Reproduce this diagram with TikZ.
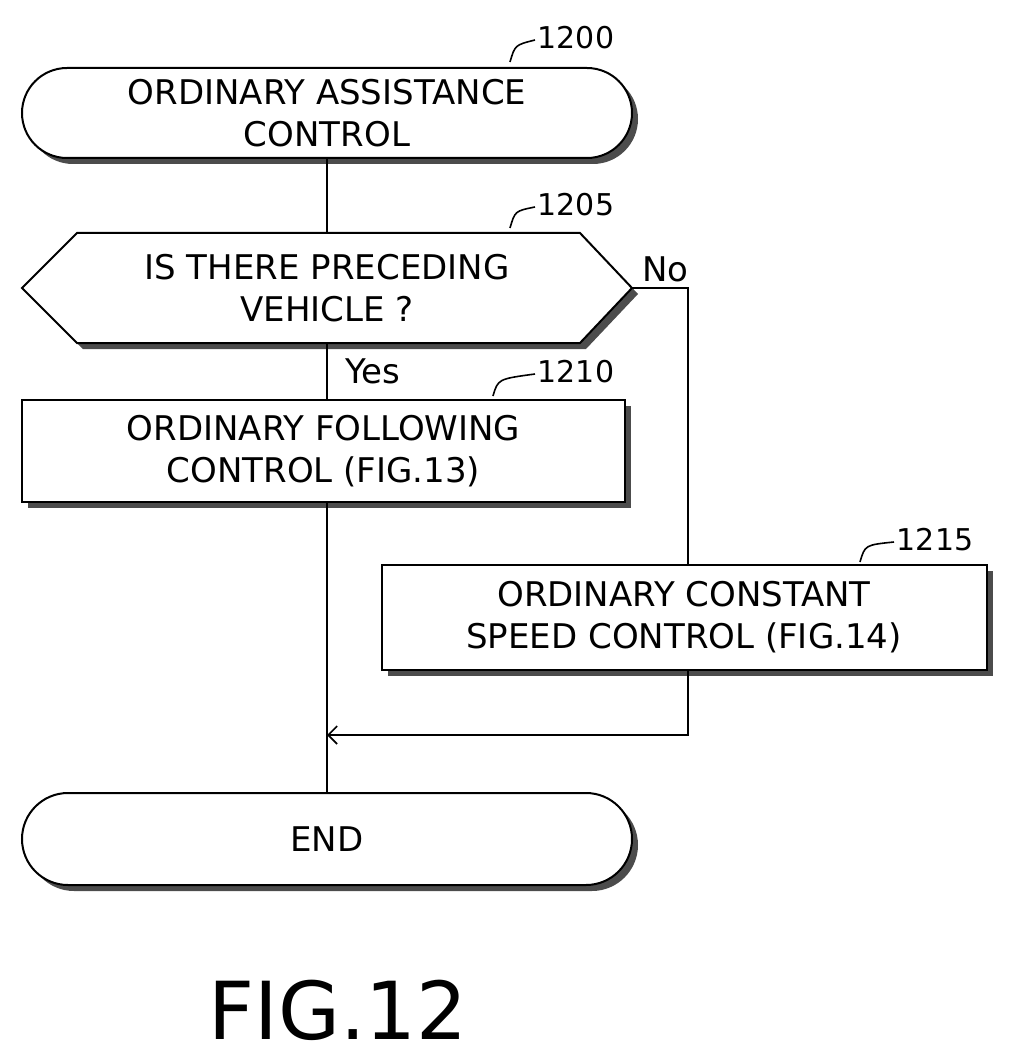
\documentclass[tikz,border=0pt]{standalone}
\usepackage{fontspec}
\setmainfont{DejaVu Sans}
\usetikzlibrary{shapes.misc,arrows.meta,shadows}
\begin{document}
\begin{tikzpicture}[x=1pt,y=-1pt,
  every node/.style={font=\fontsize{34}{42}\selectfont},
  sh/.style={drop shadow={shadow xshift=6pt,shadow yshift=-6pt,fill=black!70,opacity=1}},
  box/.style={draw,line width=2pt,fill=white,sh,align=center,inner sep=0},
  lbl/.style={font=\fontsize{30}{34}\selectfont},
  ln/.style={line width=1.6pt}]
\useasboundingbox (0,0) rectangle (1015,1059);
\node[box,rounded rectangle,minimum width=610pt,minimum height=90pt] (s) at (327,113) {ORDINARY ASSISTANCE\\CONTROL};
\fill[black!70] (28,294) -- (83,239) -- (586,239) -- (638,294) -- (586,349) -- (83,349) -- cycle;
\draw[line width=2pt,fill=white] (22,288) -- (77,233) -- (580,233) -- (632,288) -- (580,343) -- (77,343) -- cycle;
\node[align=center] (d) at (327,288) {IS THERE PRECEDING\\VEHICLE ?};
\coordinate (dt) at (327,233);
\coordinate (db) at (327,343);
\coordinate (dr) at (632,288);
\node[box,minimum width=603pt,minimum height=102pt] (f) at (323.5,451) {ORDINARY FOLLOWING\\CONTROL (FIG.13)};
\node[box,minimum width=605pt,minimum height=105pt] (c) at (684,617) {ORDINARY CONSTANT\\SPEED CONTROL (FIG.14)};
\node[box,rounded rectangle,minimum width=610pt,minimum height=92pt] (e) at (327,839) {END};
\coordinate (m) at (327,735);
\draw[ln] (s.south) -- (dt);
\draw[ln] (db) -- node[pos=0.5,right=14pt] {Yes} (db|-f.north);
\draw[ln] (dr) -- (688,288) node[pos=0.6,above=2pt] {No} -- (688,565);
\draw[ln] (db|-f.south) -- (e.north);
\draw[ln,-{Straight Barb[length=9pt,width=18pt]}] (688,670) -- (688,735) -- (m);
\node[lbl] (l1) at (576,38) {1200};
\draw[ln] (510,62) .. controls (515,45) .. (535,40);
\node[lbl] (l2) at (576,205) {1205};
\draw[ln] (510,228) .. controls (515,211) .. (535,207);
\node[lbl] (l3) at (576,372) {1210};
\draw[ln] (493,396) .. controls (498,379) .. (535,374);
\node[lbl] (l4) at (935,540) {1215};
\draw[ln] (860,562) .. controls (865,545) .. (894,542);
\node[font=\fontsize{80}{90}\selectfont] (fig) at (338,1010) {FIG.12};
\end{tikzpicture}
\end{document}
